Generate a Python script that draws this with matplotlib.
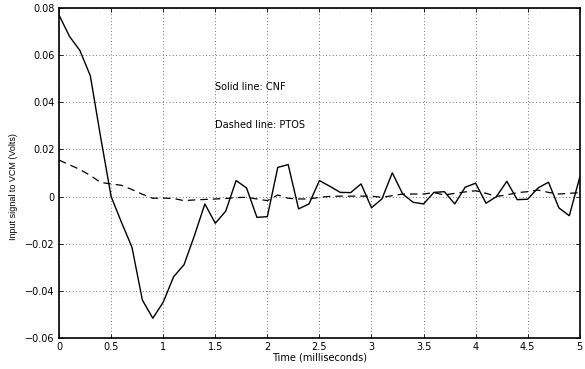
import numpy as np
import matplotlib
matplotlib.use("Agg")
import matplotlib.pyplot as plt

plt.rcParams['font.family'] = ['DejaVu Sans']

# time axis in milliseconds, 0.1 ms steps
t = [round(0.1 * i, 1) for i in range(51)]

# CNF (solid)
cnf = [0.077, 0.068, 0.062, 0.0513, 0.025, 0.0, -0.011, -0.0215, -0.0439, -0.0516,
       -0.0448, -0.034, -0.0289, -0.0165, -0.0031, -0.0113, -0.0062, 0.0068, 0.0037, -0.0088,
       -0.0085, 0.0124, 0.0136, -0.0052, -0.0031, 0.0068, 0.0044, 0.0018, 0.0017, 0.0054,
       -0.0047, -0.001, 0.0101, 0.0011, -0.0024, -0.0031, 0.0018, 0.0021, -0.0031, 0.004,
       0.0057, -0.0028, 0.0, 0.0065, -0.0013, -0.0011, 0.0037, 0.0061, -0.0048, -0.0081,
       0.0082]

# PTOS (dashed)
ptos = [0.0155, 0.0135, 0.0115, 0.009, 0.006, 0.0054, 0.0048, 0.003, 0.001, -0.0007,
        -0.0006, -0.0008, -0.0017, -0.0014, -0.0012, -0.001, -0.0008, -0.0004, -0.0003, -0.001,
        -0.0017, 0.0007, -0.0007, -0.001, -0.001, -0.0003, 0.0001, 0.0002, 0.0002, 0.0002,
        0.0002, -0.0003, 0.0004, 0.0011, 0.0011, 0.0011, 0.0017, 0.0007, 0.0014, 0.002,
        0.0025, 0.0014, 0.0001, 0.0007, 0.0017, 0.0021, 0.0028, 0.0018, 0.0011, 0.0014,
        0.0017]

xticks = [0, 0.5, 1, 1.5, 2, 2.5, 3, 3.5, 4, 4.5, 5]
yticks = [-0.06, -0.04, -0.02, 0, 0.02, 0.04, 0.06, 0.08]
ytick_labels = ['\u22120.06', '\u22120.04', '\u22120.02', '0', '0.02', '0.04', '0.06', '0.08']

fig = plt.figure(figsize=(5.85, 3.69), dpi=100)
ax = fig.add_axes([0.101, 0.084, 0.890, 0.894])

ax.plot(t, cnf, color='black', linewidth=1.0, linestyle='-')
ax.plot(t, ptos, color='black', linewidth=0.9, linestyle=(0, (6, 4)))

ax.set_xlim(0, 5)
ax.set_ylim(-0.06, 0.08)
ax.set_xticks(xticks)
ax.set_xticklabels([('%g' % v) for v in xticks])
ax.set_yticks(yticks)
ax.set_yticklabels(ytick_labels)
ax.tick_params(direction='in', length=3, labelsize=7, top=True, right=True, width=0.6, pad=3)
ax.grid(True, linestyle=(0, (1, 3)), color='#444444', linewidth=0.6)
for s in ax.spines.values():
    s.set_linewidth(1.2)

ax.set_xlabel('Time (milliseconds)', fontsize=7, labelpad=0)
ax.set_ylabel('Input signal to VCM (Volts)', fontsize=6.5, family='Liberation Sans')
ax.yaxis.set_label_coords(-0.078, 0.46)

ax.text(1.5, 0.0467, 'Solid line: CNF', fontsize=7, va='center', ha='left')
ax.text(1.5, 0.0305, 'Dashed line: PTOS', fontsize=7, va='center', ha='left')

fig.savefig('out.png', dpi=100)
